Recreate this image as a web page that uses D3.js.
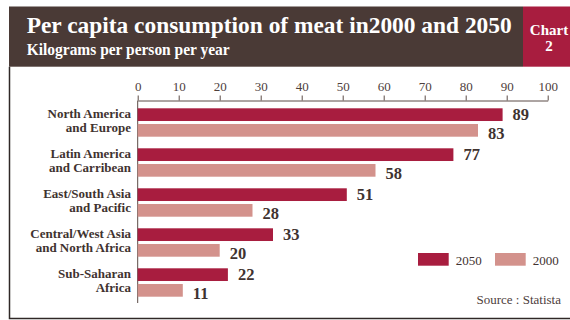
<!DOCTYPE html>
<html>
<head>
<meta charset="utf-8">
<script src="https://cdn.jsdelivr.net/npm/d3@7"></script>
<style>
  body { margin: 0; background: #fff; }
  svg { display: block; }
</style>
</head>
<body>
<script>
// Data

const regions = [
	['North America', 'and Europe'],
	['Latin America', 'and Carribean'],
	['East/South Asia', 'and Pacific'],
	['Central/West Asia', 'and North Africa'],
	['Sub-Saharan', 'Africa'],
];
const series = ['2050', '2000'];
const values2050 = [89, 77, 51, 33, 22];
const values2000 = [83, 58, 28, 20, 11];
const xTicks = [0, 10, 20, 30, 40, 50, 60, 70, 80, 90, 100];

const data = regions.map((r, i) => ({
	key: r.join(' '),
	lines: r,
	values: [
		{ s: '2050', v: values2050[i] },
		{ s: '2000', v: values2000[i] },
	],
}));

// Constants

const width = 570;
const height = 320;
const font = '"Liberation Serif", "DejaVu Serif", serif';
const colors = { '2050': '#a81d3f', '2000': '#d3928c' };
const brown = '#4a3a36';
const ink = '#3f3330';

const x = d3.scaleLinear().domain([0, 100]).range([137.7, 547.7]);

const y = d3
	.scaleBand()
	.domain(data.map((d) => d.key))
	.range([102.5, 302.5])
	.paddingInner(0.29)
	.paddingOuter(0.145);

const ySub = d3
	.scaleBand()
	.domain(series)
	.range([0, y.bandwidth()])
	.paddingInner(0.19);

const color = d3.scaleOrdinal().domain(series).range(series.map((s) => colors[s]));

// Setup svg

const svg = d3
	.select('body')
	.append('svg')
	.attr('width', width)
	.attr('height', height)
	.attr('font-family', font);

// header
svg.append('rect').attr('x', 9).attr('y', 6.5).attr('width', 514).attr('height', 60.2).attr('fill', brown);
svg.append('rect').attr('x', 523).attr('y', 6.5).attr('width', 47).attr('height', 60.2).attr('fill', '#a81d3f');

svg
	.append('text')
	.attr('x', 26.7)
	.attr('y', 33.3)
	.attr('fill', '#fff')
	.attr('font-size', 24)
	.attr('font-weight', 'bold')
	.attr('textLength', 485)
	.attr('lengthAdjust', 'spacingAndGlyphs')
	.text('Per capita consumption of meat in2000 and 2050');

svg
	.append('text')
	.attr('x', 26.7)
	.attr('y', 55)
	.attr('fill', '#fff')
	.attr('font-size', 16)
	.attr('font-weight', 'bold')
	.attr('textLength', 203)
	.attr('lengthAdjust', 'spacingAndGlyphs')
	.text('Kilograms per person per year');

svg
	.append('g')
	.attr('fill', '#fff')
	.attr('font-size', 15)
	.attr('font-weight', 'bold')
	.attr('text-anchor', 'middle')
	.selectAll('text')
	.data(['Chart', '2'])
	.join('text')
	.attr('x', 549)
	.attr('y', (d, i) => 35 + i * 15.5)
	.text((d) => d);

// frame
svg
	.append('path')
	.attr('d', 'M9.5,66.7V318.5H570')
	.attr('fill', 'none')
	.attr('stroke', '#2f2826')
	.attr('stroke-width', 1.5);

// x axis on top
const xAxis = (g) =>
	g
		.attr('transform', 'translate(0,100.5)')
		.call(d3.axisTop(x).tickValues(xTicks).tickSize(5).tickSizeOuter(0).tickPadding(5))
		.call((g) => g.attr('font-family', font).attr('font-size', 13))
		.call((g) => g.selectAll('line, path').attr('stroke', '#5a4a46'))
		.call((g) => g.selectAll('text').attr('fill', '#4e403c'));

svg.append('g').call(xAxis);

svg
	.append('line')
	.attr('x1', x(0))
	.attr('x2', x(0))
	.attr('y1', 100.5)
	.attr('y2', 303)
	.attr('stroke', '#5a4a46');

// category labels
svg
	.append('g')
	.attr('fill', ink)
	.attr('font-size', 13)
	.attr('font-weight', 'bold')
	.attr('text-anchor', 'end')
	.selectAll('text')
	.data(data)
	.join('text')
	.attr('y', (d) => y(d.key) + y.bandwidth() / 2)
	.selectAll('tspan')
	.data((d) => d.lines)
	.join('tspan')
	.attr('x', 131)
	.attr('dy', (d, i) => (i === 0 ? -4.5 : 13.5))
	.text((d) => d);

// bars
const groups = svg
	.append('g')
	.selectAll('g')
	.data(data)
	.join('g')
	.attr('transform', (d) => `translate(0,${y(d.key)})`);

groups
	.selectAll('rect')
	.data((d) => d.values)
	.join('rect')
	.attr('x', x(0))
	.attr('y', (d) => ySub(d.s))
	.attr('width', (d) => x(d.v) - x(0))
	.attr('height', ySub.bandwidth())
	.attr('fill', (d) => color(d.s));

groups
	.selectAll('text')
	.data((d) => d.values)
	.join('text')
	.attr('x', (d) => x(d.v) + 10)
	.attr('y', (d) => ySub(d.s) + ySub.bandwidth() / 2 + (d.s === '2050' ? 5 : 8.5))
	.attr('fill', ink)
	.attr('font-size', 16.5)
	.attr('font-weight', 'bold')
	.text((d) => d.v);

// legend
const legend = svg
	.append('g')
	.selectAll('g')
	.data(series)
	.join('g')
	.attr('transform', (d, i) => `translate(${418 + i * 77},253)`);

legend
	.append('rect')
	.attr('width', 30.7)
	.attr('height', 12.7)
	.attr('fill', (d) => color(d));

legend
	.append('text')
	.attr('x', 37.7)
	.attr('y', 12)
	.attr('fill', ink)
	.attr('font-size', 13)
	.text((d) => d);

svg
	.append('text')
	.attr('x', 561)
	.attr('y', 304)
	.attr('text-anchor', 'end')
	.attr('fill', '#4e403c')
	.attr('font-size', 13)
	.text('Source : Statista');
</script>
</body>
</html>
